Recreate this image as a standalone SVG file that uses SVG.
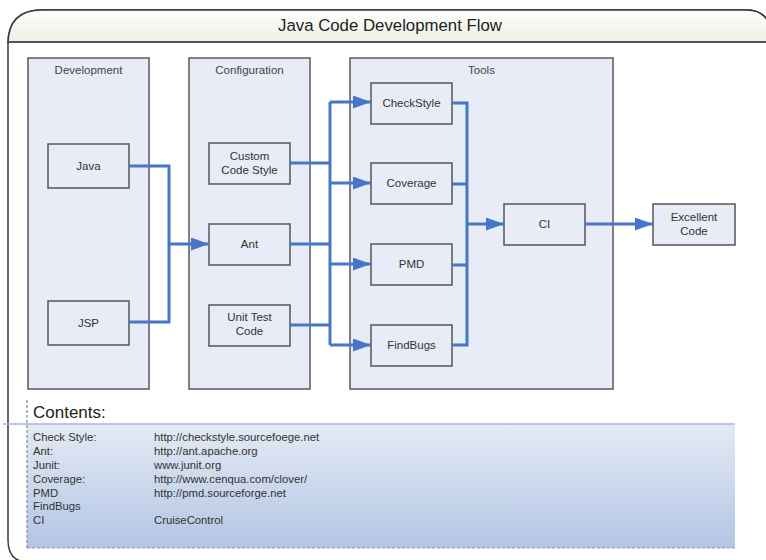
<svg xmlns="http://www.w3.org/2000/svg" width="766" height="560" viewBox="0 0 766 560">
<defs>
<linearGradient id="gTitle" x1="0" y1="0" x2="0" y2="1">
<stop offset="0" stop-color="#fdfdfb"/>
<stop offset="1" stop-color="#efefe6"/>
</linearGradient>
<linearGradient id="gContents" x1="0" y1="0" x2="0" y2="1">
<stop offset="0" stop-color="#e4eaf3"/>
<stop offset="1" stop-color="#b2c5e5"/>
</linearGradient>
<marker id="arr" markerUnits="userSpaceOnUse" markerWidth="19" markerHeight="14" refX="18" refY="6.5" orient="auto">
<path d="M0,0 L18,6.5 L0,13 z" fill="#4677c6"/>
</marker>
<style>
text{font-family:"Liberation Sans",Arial,sans-serif;fill:#333}
.panel{fill:#e8ecf6;stroke:#5a5a5a;stroke-width:1.5}
.box{fill:#e8ecf6;stroke:#555;stroke-width:1.5}
.lbl{font-size:11.5px;text-anchor:middle}
.plbl{font-size:11.5px;text-anchor:middle;fill:#444}
.conn{fill:none;stroke:#4677c6;stroke-width:3;stroke-linejoin:miter}
.ct{font-size:11.3px;fill:#333}
</style>
</defs>

<g id="frame">
<path d="M8,540 L8,44 Q8,10 42,10 L746,10 Q770,10 770,34 L770,562 L28,562 Q8,562 8,540 Z" fill="#ffffff" stroke="#3a3a3a" stroke-width="1.5"/>
<path d="M8,42 L8,44 Q8,10 42,10 L746,10 Q770,10 770,34 L770,42 Z" fill="url(#gTitle)" stroke="#3a3a3a" stroke-width="1.5"/>
<line x1="8" y1="42" x2="770" y2="42" stroke="#555" stroke-width="2"/>
<text x="390" y="31" font-size="16.8" text-anchor="middle" style="fill:#222">Java Code Development Flow</text>
</g>

<g id="panel-development">
<rect class="panel" x="28" y="58" width="121" height="331"/>
<text class="plbl" x="88.5" y="74">Development</text>
</g>
<g id="panel-configuration">
<rect class="panel" x="189" y="58" width="121" height="331"/>
<text class="plbl" x="249.5" y="74">Configuration</text>
</g>
<g id="panel-tools">
<rect class="panel" x="350" y="58" width="263" height="331"/>
<text class="plbl" x="481.5" y="74">Tools</text>
</g>

<g id="node-java">
<rect class="box" x="48" y="144" width="81" height="44"/>
<text class="lbl" x="88.5" y="170">Java</text>
</g>
<g id="node-jsp">
<rect class="box" x="48" y="301" width="81" height="44"/>
<text class="lbl" x="88.5" y="327">JSP</text>
</g>
<g id="node-custom">
<rect class="box" x="209" y="143" width="81" height="41"/>
<text class="lbl" x="249.5" y="160">Custom</text>
<text class="lbl" x="249.5" y="174">Code Style</text>
</g>
<g id="node-ant">
<rect class="box" x="209" y="224" width="81" height="41"/>
<text class="lbl" x="249.5" y="248">Ant</text>
</g>
<g id="node-unittest">
<rect class="box" x="209" y="305" width="81" height="41"/>
<text class="lbl" x="249.5" y="321">Unit Test</text>
<text class="lbl" x="249.5" y="335">Code</text>
</g>
<g id="node-checkstyle">
<rect class="box" x="371" y="83" width="81" height="41"/>
<text class="lbl" x="411.5" y="107">CheckStyle</text>
</g>
<g id="node-coverage">
<rect class="box" x="371" y="163" width="81" height="41"/>
<text class="lbl" x="411.5" y="187">Coverage</text>
</g>
<g id="node-pmd">
<rect class="box" x="371" y="244" width="81" height="41"/>
<text class="lbl" x="411.5" y="268">PMD</text>
</g>
<g id="node-findbugs">
<rect class="box" x="371" y="325" width="81" height="41"/>
<text class="lbl" x="411.5" y="349">FindBugs</text>
</g>
<g id="node-ci">
<rect class="box" x="504" y="204" width="81" height="41"/>
<text class="lbl" x="544.5" y="228">CI</text>
</g>
<g id="node-excellent">
<rect class="box" x="653" y="204" width="82" height="41"/>
<text class="lbl" x="694" y="221">Excellent</text>
<text class="lbl" x="694" y="235">Code</text>
</g>

<g id="connectors">
<path class="conn" d="M129,166 L169,166 L169,322 L129,322"/>
<path class="conn" d="M169,244 L209,244" marker-end="url(#arr)"/>
<path class="conn" d="M290,163 L330,163"/>
<path class="conn" d="M290,244 L330,244"/>
<path class="conn" d="M290,325 L330,325"/>
<path class="conn" d="M330,102 L330,345"/>
<path class="conn" d="M330,102 L371,102" marker-end="url(#arr)"/>
<path class="conn" d="M330,183 L371,183" marker-end="url(#arr)"/>
<path class="conn" d="M330,264 L371,264" marker-end="url(#arr)"/>
<path class="conn" d="M330,345 L371,345" marker-end="url(#arr)"/>
<path class="conn" d="M452,103 L467,103 L467,345 L452,345"/>
<path class="conn" d="M452,184 L467,184"/>
<path class="conn" d="M452,265 L467,265"/>
<path class="conn" d="M467,224 L504,224" marker-end="url(#arr)"/>
<path class="conn" d="M585,224 L653,224" marker-end="url(#arr)"/>
</g>

<g id="contents">
<rect x="27" y="424" width="708" height="124" fill="url(#gContents)"/>
<line x1="27" y1="548" x2="735" y2="548" stroke="#999" stroke-width="1.2" stroke-dasharray="3,2"/>
<line x1="27" y1="400" x2="27" y2="548" stroke="#888" stroke-width="1.2" stroke-dasharray="3,2"/>
<line x1="3" y1="424" x2="735" y2="424" stroke="#a3b9de" stroke-width="1.5"/>
<text x="33" y="418" font-size="17" style="fill:#222">Contents:</text>
<text class="ct" x="33" y="441">Check Style:</text>
<text class="ct" x="154" y="441">http://checkstyle.sourcefoege.net</text>
<text class="ct" x="33" y="455">Ant:</text>
<text class="ct" x="154" y="455">http://ant.apache.org</text>
<text class="ct" x="33" y="469">Junit:</text>
<text class="ct" x="154" y="469">www.junit.org</text>
<text class="ct" x="33" y="483">Coverage:</text>
<text class="ct" x="154" y="483">http://www.cenqua.com/clover/</text>
<text class="ct" x="33" y="497">PMD</text>
<text class="ct" x="154" y="497">http://pmd.sourceforge.net</text>
<text class="ct" x="33" y="510">FindBugs</text>
<text class="ct" x="33" y="524">CI</text>
<text class="ct" x="154" y="524">CruiseControl</text>
</g>
</svg>
